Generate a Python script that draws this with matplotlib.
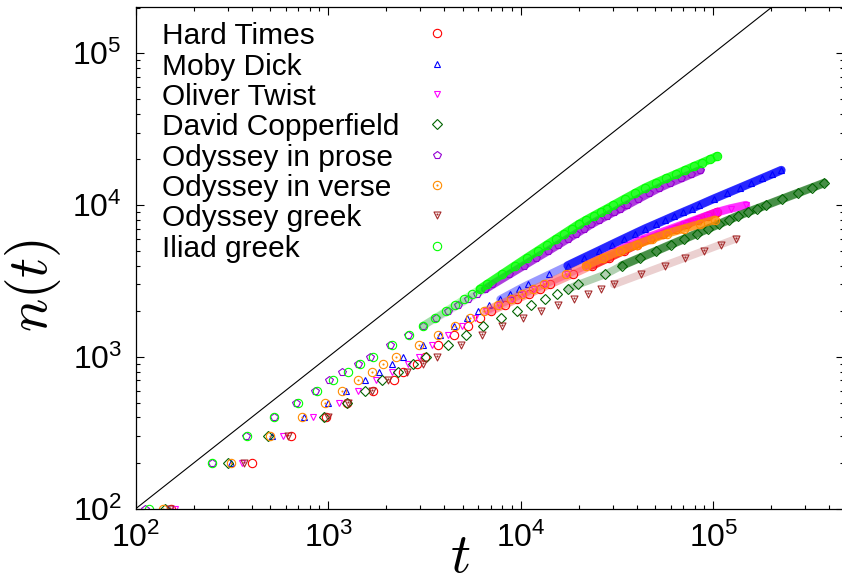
import matplotlib
matplotlib.use("Agg")
import matplotlib.pyplot as plt
from matplotlib.path import Path
from matplotlib.ticker import FixedLocator, LogLocator, NullFormatter

plt.rcParams['font.family'] = ['Liberation Sans', 'DejaVu Sans']
plt.rcParams['mathtext.fontset'] = 'cm'

# number of distinct words n reached after t words of text
n_levels = [100, 200, 300, 400, 500, 600, 700, 800, 900, 1000,
            1200, 1400, 1600, 1800, 2000, 2200, 2400, 2600, 2800, 3000,
            3500, 4000, 4500, 5000, 5500, 6000, 6500, 7000, 7500, 8000,
            8500, 9000, 9500, 10000, 11000, 12000, 13000, 14000, 15000,
            16000, 17000, 18000, 19000, 20000, 21000]

t_hard_times = [152, 403, 638, 974, 1256, 1703, 2196, 2455, 2891, 3175,
                3727, 4489, 5318, 6166, 7045, 8244, 9616, 11080, 12620, 14250,
                18700, 23500, 28660, 34260, 40210, 46880, 55060, 63760, 73200, 83230,
                93800, 105200]
t_moby_dick = [147, 312, 509, 748, 1001, 1237, 1552, 1843, 2138, 2453,
               3101, 3787, 4501, 5238, 6006, 6876, 7815, 8790, 9790, 10900,
               14070, 17530, 21280, 25350, 29630, 34230, 39110, 44290, 50210, 56430,
               62900, 69820, 77200, 84640, 100400, 118200, 137300, 157600, 179100,
               202000, 225800]
t_oliver_twist = [160, 356, 580, 837, 1142, 1433, 1771, 2137, 2606, 2962,
                  3477, 4190, 4963, 5754, 6575, 7693, 8974, 10340, 11780, 13300,
                  17450, 21930, 26740, 31980, 37520, 43750, 51980, 60900, 70710, 81340,
                  92730, 105200, 123000, 147900]
t_copperfield = [142, 303, 489, 951, 1247, 1552, 1896, 2297, 2748, 3203,
                 4165, 5205, 6388, 7900, 9565, 11340, 13290, 15380, 17570, 19900,
                 27540, 33560, 41690, 50670, 60310, 70880, 82260, 94210, 107000, 120500,
                 134600, 151100, 169400, 188200, 228800, 274300, 324100, 377600]
t_odyssey_prose = [112, 249, 374, 521, 681, 853, 1009, 1175, 1432, 1648,
                   2104, 2585, 3094, 3627, 4178, 4739, 5325, 5937, 6536, 7129,
                   8715, 10370, 12070, 13890, 15690, 17530, 19430, 21350, 23280, 25530,
                   27900, 30380, 32970, 35550, 40810, 46410, 52360, 59640, 67920,
                   76560, 85760]
t_odyssey_verse = [138, 313, 499, 734, 962, 1175, 1433, 1682, 1919, 2250,
                   2960, 3734, 4565, 5449, 6432, 7595, 8856, 10200, 11630, 13140,
                   17250, 21850, 26900, 32860, 40090, 48170, 57330, 70290, 85110, 101700]
t_odyssey_greek = [151, 366, 620, 994, 1272, 1682, 2052, 2556, 3097, 3672,
                   4915, 6298, 7957, 10220, 12810, 15670, 18890, 22430, 26260, 30420,
                   42130, 55850, 71570, 89490, 109200, 131400]
t_iliad_greek = [117, 250, 378, 521, 697, 871, 1062, 1271, 1462, 1714,
                 2153, 2616, 3094, 3585, 4083, 4577, 5087, 5607, 6128, 6653,
                 7985, 9352, 10760, 12240, 13730, 15280, 16850, 18430, 20040, 21930,
                 23910, 25980, 28130, 30260, 34650, 39320, 44160, 50180, 56890,
                 63960, 71330, 79170, 87530, 96000, 104800]

labels = ["Hard Times", "Moby Dick", "Oliver Twist", "David Copperfield",
          "Odyssey in prose", "Odyssey in verse", "Odyssey greek", "Iliad greek"]
colors = ["#ff0000", "#0000ff", "#ff00ff", "#006400",
          "#9400d3", "#ff8c00", "#a52a2a", "#00ff00"]

# open symbols with a centre dot
circle_dot = Path.make_compound_path(Path.unit_circle(),
                                     Path.circle((0, 0), 0.12))
tri_down = Path([(0, -1), (-1, 1), (1, 1), (0, -1)],
                [Path.MOVETO, Path.LINETO, Path.LINETO, Path.CLOSEPOLY])
tri_dot = Path.make_compound_path(tri_down, Path.circle((0, 0.3), 0.14))

markers = ['o', '^', 'v', 'D', 'p', circle_dot, tri_dot, 'o']
sizes = [6, 4.6, 5, 4.6, 5.4, 6, 5, 6]
# the samples first overlap loosely, then pile up into a solid band
haze_from = [2000, 2400, 2000, 2800, 1600, 2000, 3000, 1600]
haze_alpha = [0.35, 0.4, 0.35, 0.3, 0.2, 0.35, 0.22, 0.3]
band_from = [4000, 4000, 4000, 4000, 2800, 4000, 0, 2800]
band_alpha = [0.7, 0.75, 0.7, 0.6, 0.7, 0.7, 0.0, 0.75]

series = [t_hard_times, t_moby_dick, t_oliver_twist, t_copperfield,
          t_odyssey_prose, t_odyssey_verse, t_odyssey_greek, t_iliad_greek]

fig = plt.figure(figsize=(8.42, 5.85), dpi=100)
ax = fig.add_axes([0.1612, 0.1304, 0.8406, 0.8571])

ax.plot([100, 2.01e5], [100, 2.01e5], color='black', lw=0.8)

for t, m, ms, c, h0, ha_, b0, a in zip(series, markers, sizes, colors,
                                       haze_from, haze_alpha,
                                       band_from, band_alpha):
    n = n_levels[:len(t)]
    k = n_levels.index(h0)
    ax.plot(t[k:], n[k:], color=c, lw=5.5, alpha=ha_,
            solid_capstyle='round', solid_joinstyle='round')
    if b0:
        k = n_levels.index(b0)
        ax.plot(t[k:], n[k:], color=c, lw=6.2, alpha=a,
                solid_capstyle='round', solid_joinstyle='round')
    ax.plot(t, n, linestyle='none', marker=m, ms=ms,
            mfc='none', mec=c, mew=0.8)

ax.set_xscale('log')
ax.set_yscale('log')
ax.set_xlim(100, 4.75e5)
ax.set_ylim(100, 2.01e5)

decades = [1e2, 1e3, 1e4, 1e5]
dec_labels = [r'$\mathregular{10^{2}}$', r'$\mathregular{10^{3}}$',
              r'$\mathregular{10^{4}}$', r'$\mathregular{10^{5}}$']
for axis in (ax.xaxis, ax.yaxis):
    axis.set_major_locator(FixedLocator(decades))
    axis.set_minor_locator(LogLocator(base=10, subs=range(2, 10), numticks=20))
    axis.set_minor_formatter(NullFormatter())
ax.set_xticklabels(dec_labels)
ax.set_yticklabels(dec_labels)

ax.tick_params(which='both', direction='in', top=True, right=True, width=0.8)
ax.tick_params(which='major', length=6, labelsize=23, pad=10)
ax.tick_params(which='minor', length=3)
for s in ax.spines.values():
    s.set_linewidth(0.9)

fig.text(460 / 842, 1 - 558 / 585, r'$t$', fontsize=40, ha='center', va='center')
fig.text(33 / 842, 1 - 285 / 585, r'$n(t)$', fontsize=40, rotation=90,
         ha='center', va='center')

# key: label on the left, sample symbol in a column to the right
for i, (lab, m, ms, c) in enumerate(zip(labels, markers, sizes, colors)):
    fig.text(162 / 842, 1 - (44.3 + 30.35 * i) / 585, lab, fontsize=21.5,
             ha='left', va='baseline')
    ax.plot([437 / 842], [1 - (33.3 + 30.35 * i) / 585], linestyle='none',
            marker=m, ms=ms, mfc='none', mec=c, mew=0.8,
            transform=fig.transFigure, clip_on=False)

fig.savefig("out.png", dpi=100)
